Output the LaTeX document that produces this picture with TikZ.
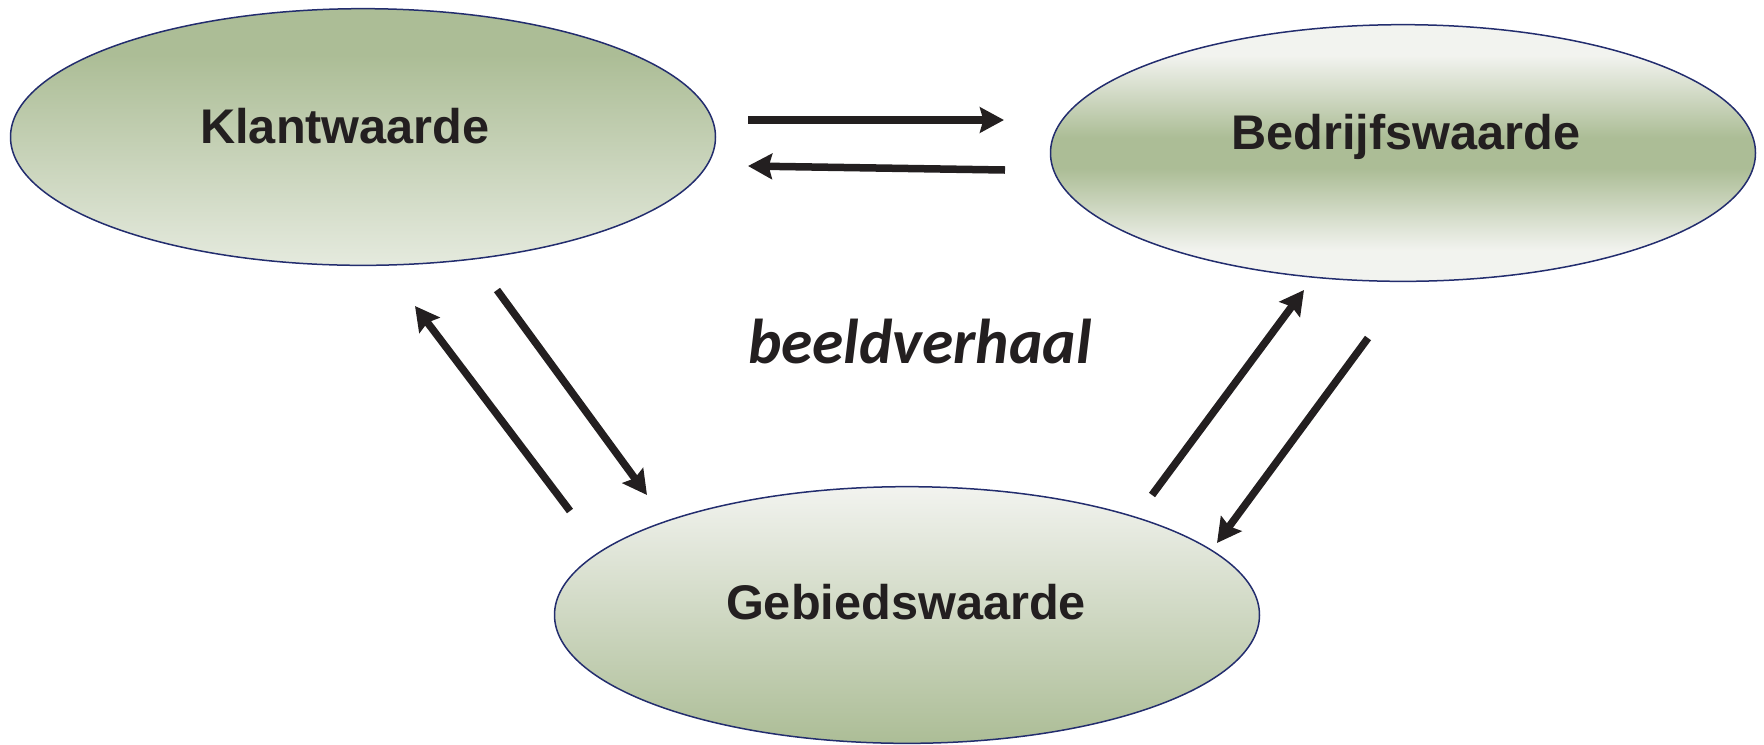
\documentclass[tikz,border=0pt]{standalone}
\usepackage{fontspec}
\usetikzlibrary{arrows.meta, shapes.geometric}
\newfontfamily\arialfont{Liberation Sans}
\newfontfamily\calibrifont{Carlito}
\definecolor{sage}{RGB}{172,189,150}
\definecolor{pale}{RGB}{242,243,239}
\definecolor{mist}{RGB}{229,234,222}
\definecolor{rand}{RGB}{35,45,110}
\definecolor{inkt}{RGB}{35,31,32}
\pgfdeclareverticalshading{bandgroen}{100bp}{color(0bp)=(pale); color(31bp)=(pale); color(47bp)=(sage); color(53bp)=(sage); color(69bp)=(pale); color(100bp)=(pale)}
\pgfdeclareverticalshading{bovengroen}{100bp}{color(0bp)=(mist); color(25bp)=(mist); color(66bp)=(sage); color(100bp)=(sage)}

\begin{document}
\begin{tikzpicture}[x=0.3pt, y=-0.3pt, >={Stealth[length=7.2pt,width=7.6pt,inset=1pt]},
    waarde/.style={ellipse, draw=rand, line width=0.45pt, minimum width=211.5pt, minimum height=77pt, inner sep=0pt},
    tekst/.style={anchor=base, inner sep=0pt, text=inkt, font=\arialfont\bfseries\fontsize{14.6}{16}\selectfont},
    pijl/.style={->, line width=2.25pt, draw=inkt}]
    \useasboundingbox (0,0) rectangle (1764,744);
    \node[waarde, shading=bovengroen] (klant) at (363,137) {};
    \node[waarde, shading=bandgroen] (bedrijf) at (1403,153) {};
    \node[waarde, top color=pale, bottom color=sage] (gebied) at (907,615) {};
    \node[tekst] (klanttxt) at (345,143) {Klantwaarde};
    \node[tekst] (bedrijftxt) at (1406,149) {Bedrijfswaarde};
    \node[tekst] (gebiedtxt) at (906,619) {Gebiedswaarde};
    \node[anchor=base, inner sep=0pt, text=inkt, font=\calibrifont\bfseries\itshape\fontsize{19}{22}\selectfont] (beeld) at (920,363) {beeldverhaal};
    \coordinate (kb1) at (748,120);
    \coordinate (kb2) at (1004,120);
    \coordinate (bk1) at (1005,170);
    \coordinate (bk2) at (748,166);
    \coordinate (gk1) at (570,511);
    \coordinate (gk2) at (415,306);
    \coordinate (kg1) at (497,290);
    \coordinate (kg2) at (647,495);
    \coordinate (gb1) at (1152,495);
    \coordinate (gb2) at (1304,290);
    \coordinate (bg1) at (1368,338);
    \coordinate (bg2) at (1217,543);
    \draw[pijl] (kb1) -- (kb2);
    \draw[pijl] (bk1) -- (bk2);
    \draw[pijl] (gk1) -- (gk2);
    \draw[pijl] (kg1) -- (kg2);
    \draw[pijl] (gb1) -- (gb2);
    \draw[pijl] (bg1) -- (bg2);
\end{tikzpicture}
\end{document}
